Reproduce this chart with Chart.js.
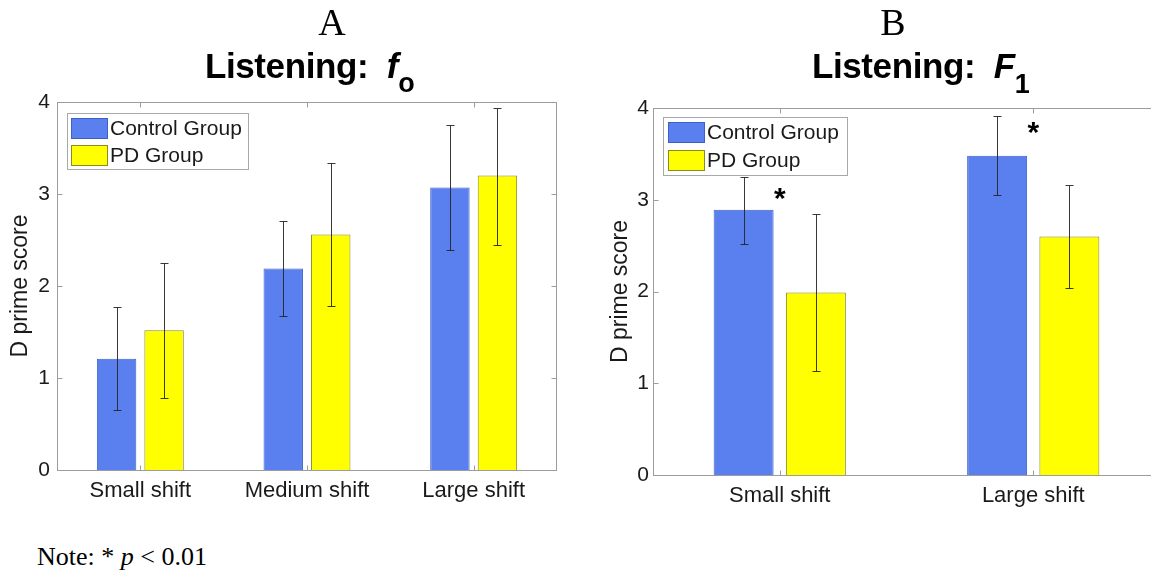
<!DOCTYPE html>
<html>
<head>
<meta charset="utf-8">
<script src="https://cdn.jsdelivr.net/npm/chart.js@4.4.1/dist/chart.umd.min.js"></script>
<style>
  html, body { margin:0; padding:0; background:#fff; width:1151px; height:580px; overflow:hidden; }
  #wrap { position:relative; width:1151px; height:580px; overflow:hidden; }
  canvas { position:absolute; top:0; }
  .lbl { position:absolute; white-space:nowrap; color:#000; }
  .serif { font-family:"Liberation Serif","Times New Roman",serif; }
  .sans { font-family:"Liberation Sans",Arial,Helvetica,sans-serif; font-weight:bold; }
</style>
</head>
<body>
<div id="wrap">
  <canvas id="cA" width="580" height="540" style="left:0px"></canvas>
  <canvas id="cB" width="580" height="540" style="left:580px"></canvas>

  <div class="lbl serif" style="left:232px;width:200px;text-align:center;top:3px;font-size:38px;line-height:38px;">A</div>
  <div class="lbl sans" style="left:205px;top:48px;font-size:35px;line-height:35px;letter-spacing:-0.4px;">Listening:&nbsp; <i>f</i><span style="font-size:27px;vertical-align:-14px;">o</span></div>

  <div class="lbl serif" style="left:793px;width:200px;text-align:center;top:3px;font-size:38px;line-height:38px;">B</div>
  <div class="lbl sans" style="left:812px;top:48px;font-size:35px;line-height:35px;letter-spacing:-0.4px;">Listening:&nbsp; <i>F</i><span style="font-size:27px;vertical-align:-15px;">1</span></div>

  <div class="lbl serif" style="left:37px;top:544px;font-size:26px;line-height:26px;">Note: * <i>p</i> &lt; 0.01</div>
</div>
<script>
// ---------- data ----------
const categoriesA = ['Small shift', 'Medium shift', 'Large shift'];
const controlA    = [1.21, 2.19, 3.07];
const controlA_lo = [0.65, 1.67, 2.39];
const controlA_hi = [1.77, 2.71, 3.75];
const pdA         = [1.52, 2.56, 3.20];
const pdA_lo      = [0.78, 1.78, 2.45];
const pdA_hi      = [2.25, 3.34, 3.94];

const categoriesB = ['Small shift', 'Large shift'];
const controlB    = [2.89, 3.48];
const controlB_lo = [2.52, 3.05];
const controlB_hi = [3.25, 3.91];
const pdB         = [1.99, 2.60];
const pdB_lo      = [1.13, 2.04];
const pdB_hi      = [2.84, 3.16];
const starsB      = [3.08, 3.80];   // y position of significance markers

const yTicks = [0, 1, 2, 3, 4];
const seriesNames = ['Control Group', 'PD Group'];

// ---------- style ----------
const BLUE = '#5a80f0', BLUE_EDGE = '#3f5fc4';
const YELLOW = '#ffff00', YELLOW_EDGE = '#8a8a1e';
const FRAME = '#9c9c9c';
const TEXT = '#1a1a1a';
const FONT = '"Liberation Sans", Arial, Helvetica, sans-serif';

// ---------- plugins ----------
const errorBars = {
  id: 'errorBars',
  afterDatasetsDraw(chart) {
    const ctx = chart.ctx, ys = chart.scales.y;
    ctx.save();
    ctx.strokeStyle = 'rgba(35,35,35,0.9)';
    ctx.lineWidth = 1;
    chart.data.datasets.forEach((ds, i) => {
      const meta = chart.getDatasetMeta(i);
      meta.data.forEach((el, j) => {
        const x = Math.round(el.x) + 0.5;
        const yh = Math.round(ys.getPixelForValue(ds.errHigh[j])) + 0.5;
        const yl = Math.round(ys.getPixelForValue(ds.errLow[j])) + 0.5;
        ctx.beginPath();
        ctx.moveTo(x, yh); ctx.lineTo(x, yl);
        ctx.moveTo(x - 4, yh); ctx.lineTo(x + 4, yh);
        ctx.moveTo(x - 4, yl); ctx.lineTo(x + 4, yl);
        ctx.stroke();
      });
    });
    ctx.restore();
  }
};

const frameTicks = {
  id: 'frameTicks',
  afterDatasetsDraw(chart) {
    const ctx = chart.ctx, a = chart.chartArea;
    const xs = chart.scales.x, ys = chart.scales.y;
    ctx.save();
    ctx.strokeStyle = FRAME;
    ctx.lineWidth = 1;
    const L = Math.round(a.left) + 0.5, R = Math.round(a.right) - 0.5;
    const T = Math.round(a.top) + 0.5, B = Math.round(a.bottom) + 0.5;
    ctx.strokeRect(L, T, R - L, B - T);
    ctx.beginPath();
    ys.ticks.forEach((t, i) => {
      const y = Math.round(ys.getPixelForTick(i)) + 0.5;
      ctx.moveTo(L, y); ctx.lineTo(L + 5, y);
      ctx.moveTo(R, y); ctx.lineTo(R - 5, y);
    });
    xs.ticks.forEach((t, i) => {
      const x = Math.round(xs.getPixelForTick(i)) + 0.5;
      ctx.moveTo(x, B); ctx.lineTo(x, B - 5);
      ctx.moveTo(x, T); ctx.lineTo(x, T + 5);
    });
    ctx.stroke();
    ctx.restore();
  }
};

const boxLegend = {
  id: 'boxLegend',
  afterDatasetsDraw(chart, args, opts) {
    const ctx = chart.ctx, a = chart.chartArea;
    const x0 = a.left + opts.x, y0 = a.top + opts.y;
    ctx.save();
    ctx.fillStyle = '#fff';
    ctx.fillRect(x0, y0, opts.w, opts.h);
    ctx.strokeStyle = '#a8a8a8';
    ctx.lineWidth = 1;
    ctx.strokeRect(Math.round(x0) + 0.5, Math.round(y0) + 0.5, opts.w, opts.h);
    ctx.font = '21px ' + FONT;
    ctx.textBaseline = 'middle';
    ctx.textAlign = 'left';
    chart.data.datasets.forEach((ds, i) => {
      const sy = y0 + opts.sy[i];
      ctx.fillStyle = ds.backgroundColor;
      ctx.fillRect(x0 + opts.sx, sy, 36, opts.sh);
      ctx.strokeStyle = ds.borderColor;
      ctx.strokeRect(Math.round(x0 + opts.sx) + 0.5, Math.round(sy) + 0.5, 36, opts.sh);
      ctx.fillStyle = TEXT;
      ctx.fillText(ds.label, x0 + opts.sx + 39, sy + opts.sh / 2 + 1);
    });
    ctx.restore();
  }
};

const sigStars = {
  id: 'sigStars',
  afterDatasetsDraw(chart, args, opts) {
    if (!opts.values) return;
    const ctx = chart.ctx, xs = chart.scales.x, ys = chart.scales.y;
    ctx.save();
    ctx.font = 'bold 30px ' + FONT;
    ctx.fillStyle = '#000';
    ctx.textAlign = 'center';
    ctx.textBaseline = 'alphabetic';
    opts.values.forEach((v, i) => {
      ctx.fillText('*', xs.getPixelForTick(i), ys.getPixelForValue(v) + 16);
    });
    ctx.restore();
  }
};

function makeChart(id, cats, c, cLo, cHi, p, pLo, pHi, cfg) {
  return new Chart(document.getElementById(id), {
    type: 'bar',
    data: {
      labels: cats,
      datasets: [
        { label: seriesNames[0], data: c, errLow: cLo, errHigh: cHi,
          backgroundColor: BLUE, borderColor: BLUE_EDGE, borderWidth: 1,
          categoryPercentage: 0.57, barPercentage: 0.83 },
        { label: seriesNames[1], data: p, errLow: pLo, errHigh: pHi,
          backgroundColor: YELLOW, borderColor: YELLOW_EDGE, borderWidth: 1,
          categoryPercentage: 0.57, barPercentage: 0.83 }
      ]
    },
    options: {
      responsive: false,
      animation: false,
      devicePixelRatio: 1,
      layout: { padding: cfg.padding },
      plugins: {
        legend: { display: false },
        tooltip: { enabled: false },
        title: { display: false },
        boxLegend: cfg.legend,
        sigStars: { values: cfg.stars }
      },
      scales: {
        x: {
          grid: { display: false, drawTicks: false },
          border: { display: false },
          ticks: { color: TEXT, font: { family: FONT, size: 22 }, padding: cfg.xPad, maxRotation: 0 },
          afterFit: s => { s.height = cfg.xH; }
        },
        y: {
          min: 0, max: 4,
          afterBuildTicks: s => { s.ticks = yTicks.map(v => ({ value: v })); },
          grid: { display: false, drawTicks: false },
          border: { display: false },
          ticks: { color: TEXT, font: { family: FONT, size: 21 }, padding: cfg.yPad },
          title: { display: true, text: 'D prime score', color: TEXT,
                   font: { family: FONT, size: 23 }, padding: { top: cfg.tPad, bottom: 0 } },
          afterFit: s => { s.width = cfg.yW; }
        }
      }
    },
    plugins: [errorBars, frameTicks, boxLegend, sigStars]
  });
}

makeChart('cA', categoriesA, controlA, controlA_lo, controlA_hi, pdA, pdA_lo, pdA_hi, {
  padding: { top: 102, left: 0, right: 23, bottom: 0 },
  xH: 70, yW: 57, xPad: 8, yPad: 7, tPad: 7,
  legend: { x: 10, y: 11, w: 181, h: 56, sx: 4, sy: [5, 32], sh: 20 },
  stars: null
});

makeChart('cB', categoriesB, controlB, controlB_lo, controlB_hi, pdB, pdB_lo, pdB_hi, {
  padding: { top: 108, left: 16, right: 0, bottom: 0 },
  xH: 65, yW: 57, xPad: 8, yPad: 4, tPad: 11,
  legend: { x: 10, y: 9, w: 184, h: 58, sx: 5, sy: [5, 33], sh: 20 },
  stars: starsB
});
</script>
</body>
</html>
